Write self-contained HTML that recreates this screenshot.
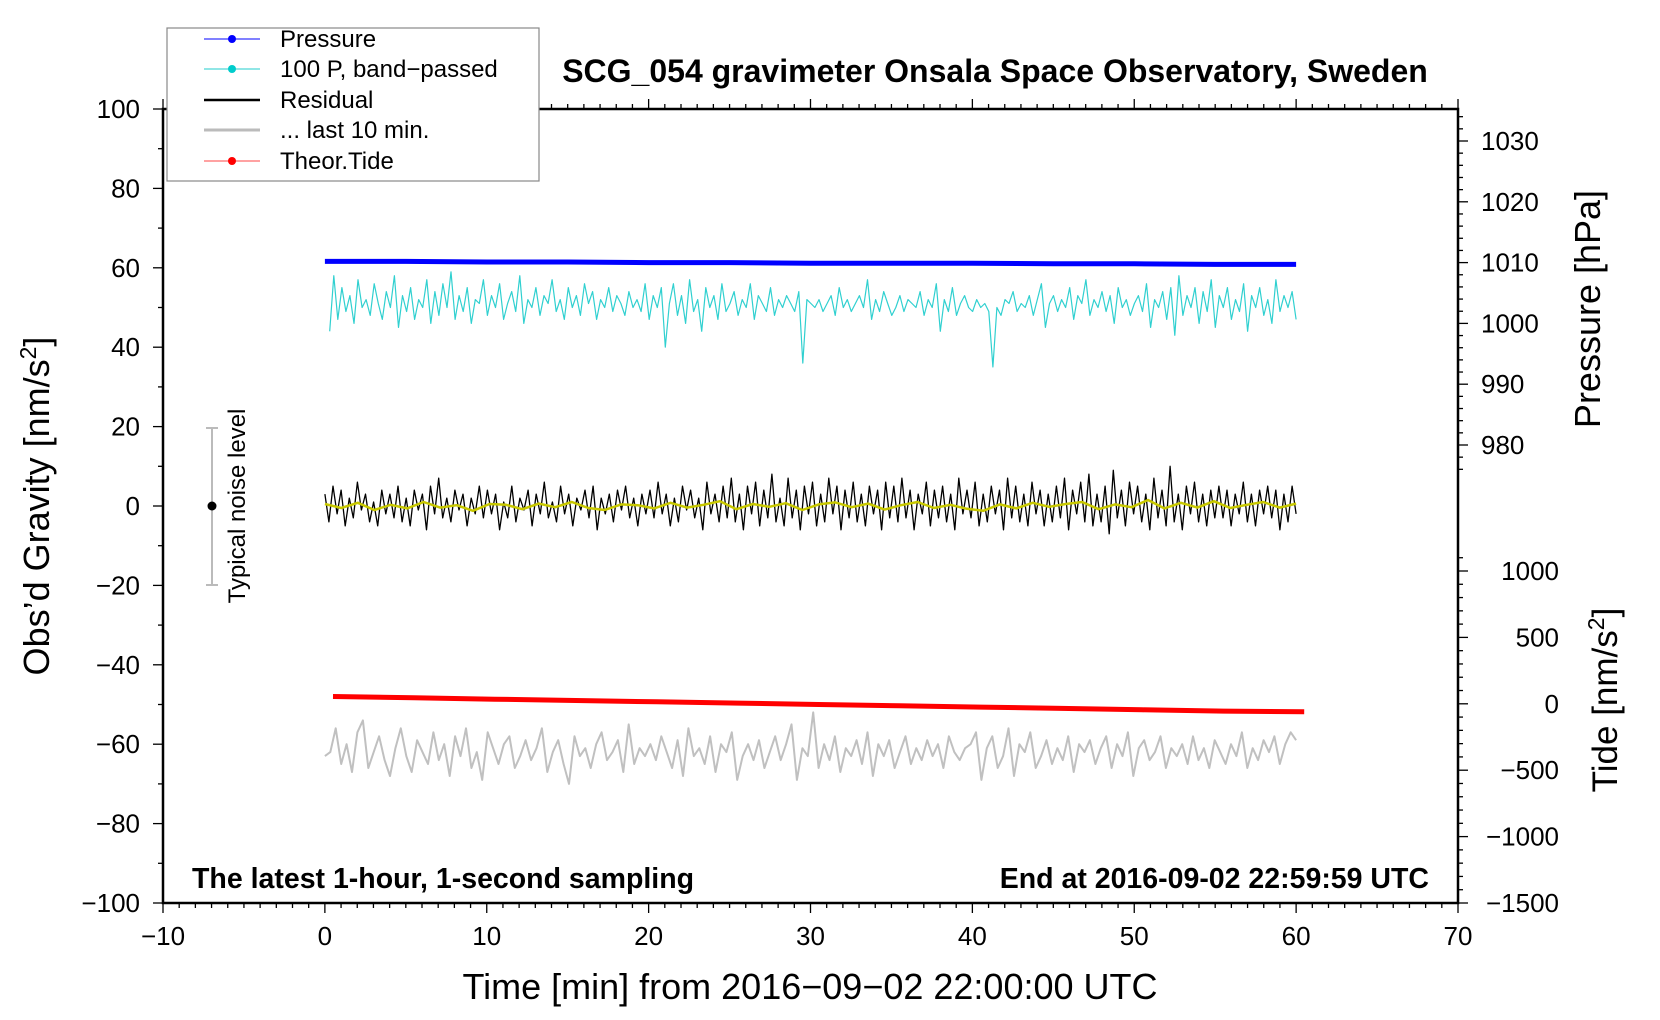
<!DOCTYPE html>
<html><head><meta charset="utf-8"><style>
html,body{margin:0;padding:0;background:#fff;}
svg{display:block;font-family:"Liberation Sans",sans-serif;}
</style></head><body>
<svg id="chart" width="1660" height="1020" viewBox="0 0 1660 1020" xmlns="http://www.w3.org/2000/svg">
<g id="axes"></g>
<g id="series"></g>
<text x="995" y="82" text-anchor="middle" font-size="32" font-weight="bold">SCG_054 gravimeter Onsala Space Observatory, Sweden</text>
<text x="192" y="888" font-size="28.5" font-weight="bold">The latest 1-hour, 1-second sampling</text>
<text x="1429" y="888" text-anchor="end" font-size="28.5" font-weight="bold">End at 2016-09-02 22:59:59 UTC</text>
<text x="810" y="999" text-anchor="middle" font-size="36">Time [min] from 2016−09−02 22:00:00 UTC</text>
<text transform="translate(49,506) rotate(-90)" text-anchor="middle" font-size="36">Obs’d Gravity [nm/s<tspan font-size="23" dy="-13">2</tspan><tspan dy="13">]</tspan></text>
<text transform="translate(1600,309) rotate(-90)" text-anchor="middle" font-size="36">Pressure [hPa]</text>
<text transform="translate(1617,700) rotate(-90)" text-anchor="middle" font-size="35">Tide [nm/s<tspan font-size="23" dy="-13">2</tspan><tspan dy="13">]</tspan></text>
<g>
<line x1="212" y1="428" x2="212" y2="585" stroke="#bbb" stroke-width="2"/>
<line x1="206" y1="428" x2="218" y2="428" stroke="#bbb" stroke-width="2"/>
<line x1="206" y1="585" x2="218" y2="585" stroke="#bbb" stroke-width="2"/>
<circle cx="212" cy="506" r="4.5" fill="#000"/>
<text transform="translate(245,506) rotate(-90)" text-anchor="middle" font-size="24">Typical noise level</text>
</g>
<g>
<rect x="167" y="28" width="372" height="153" fill="#fff" stroke="#888" stroke-width="1.2"/>
<g><line x1="204" y1="39" x2="260" y2="39" stroke="#00f" stroke-width="1"/><circle cx="232" cy="39" r="4" fill="#00f"/><text x="280" y="47" font-size="24">Pressure</text></g>
<g><line x1="204" y1="69" x2="260" y2="69" stroke="#2cc" stroke-width="1"/><circle cx="232" cy="69" r="4" fill="#0cc"/><text x="280" y="77" font-size="24">100 P, band−passed</text></g>
<g><line x1="204" y1="100" x2="260" y2="100" stroke="#000" stroke-width="2.5"/><text x="280" y="108" font-size="24">Residual</text></g>
<g><line x1="204" y1="130" x2="260" y2="130" stroke="#bbb" stroke-width="3"/><text x="280" y="138" font-size="24">... last 10 min.</text></g>
<g><line x1="204" y1="161" x2="260" y2="161" stroke="#f44" stroke-width="1"/><circle cx="232" cy="161" r="4" fill="#f00"/><text x="280" y="169" font-size="24">Theor.Tide</text></g>
</g>
<script>
const xTicks=[-10,0,10,20,30,40,50,60,70];
const yTicks=[100,80,60,40,20,0,-20,-40,-60,-80,-100];
const pTicks=[1030,1020,1010,1000,990,980];
const tTicks=[1000,500,0,-500,-1000,-1500];
const pressure=[1010.2,1010.2,1010.1,1010.1,1010.0,1010.0,1009.9,1009.9,1009.9,1009.8,1009.8,1009.7,1009.7];
const tide=[55,45,35,25,15,5,-5,-15,-25,-35,-45,-55,-60];
const bandpassed=[44,58,47,55,49,53,46,57,50,52,48,56,51,47,54,50,58,45,53,49,
55,47,52,50,57,46,54,48,56,50,59,47,53,49,55,46,52,51,57,48,
53,50,56,47,51,54,49,58,46,52,50,55,48,53,51,57,49,52,47,55,
50,53,48,56,51,54,47,52,50,55,49,53,51,48,54,50,52,49,56,47,
53,50,55,40,51,56,48,53,46,57,49,52,44,55,50,53,47,56,49,51,
54,48,52,50,56,47,53,51,49,55,48,52,50,53,51,49,54,36,52,51,
50,52,49,51,53,48,55,50,52,49,51,53,50,57,47,52,49,54,51,48,
50,53,49,52,51,50,54,48,52,50,56,44,52,49,55,48,51,53,50,49,
52,50,51,49,35,50,48,52,51,54,49,51,50,53,48,52,56,45,51,53,
49,52,50,55,47,53,51,57,48,52,50,54,49,53,46,55,50,52,48,51,
53,49,56,45,52,50,54,47,55,43,58,48,53,50,55,46,54,49,57,45,
53,50,55,47,52,49,56,44,53,50,55,48,52,46,57,49,53,50,54,47];
const residual=[3,-4,5,-2,4,-5,2,-3,6,-1,3,-4,1,-5,4,-2,3,-3,5,-4,
2,-5,4,-1,3,-6,5,-2,7,-3,2,-4,4,-1,3,-5,2,-2,5,-3,
4,-2,3,-6,1,-3,5,-4,2,-1,4,-5,3,-2,6,-3,1,-4,5,-2,
3,-5,2,-1,4,-3,5,-6,2,-2,3,-4,4,-1,5,-3,2,-5,3,-2,
4,-3,6,-2,3,-5,2,-4,5,-1,4,-3,2,-6,6,-2,3,-4,5,-3,
7,-4,3,-6,5,-2,6,-5,4,-3,8,-4,2,-5,7,-3,4,-6,5,-2,
6,-5,3,-4,7,-2,5,-6,4,-3,6,-4,3,-5,5,-2,4,-6,6,-3,
5,-4,7,-3,4,-6,3,-2,6,-5,4,-3,5,-4,3,-6,7,-2,4,-3,
6,-5,3,-4,5,-2,4,-6,7,-3,5,-4,3,-5,6,-2,4,-5,3,-4,
5,-3,7,-6,4,-2,6,-4,8,-5,3,-4,5,-7,9,-3,4,-5,6,-2,
5,-4,3,-6,7,-3,4,-5,10,-4,3,-6,5,-2,6,-4,3,-5,4,-3,
5,-3,4,-5,3,-2,6,-4,3,-5,4,-2,5,-3,4,-6,3,-4,5,-2];
const smoothed=[0.5,-0.5,0.8,-1,0.3,-0.6,1,-0.4,0.2,-1.2,0.5,0.3,-0.8,0.6,-0.3,1,-0.5,-1,0.4,0.2,-0.6,0.8,-0.4,0.3,1.2,-0.8,0.5,-0.2,0.7,-1,0.4,0.9,-0.3,0.6,-0.9,0.2,1,-0.5,0.3,-0.7,-1.2,0.4,-0.6,0.8,-0.2,0.5,1,-0.8,0.4,-0.3,1.5,-0.6,0.8,-0.4,1.2,-0.5,0.3,1,-0.4,0.6];
const last10=[-63,-62,-56,-65,-60,-67,-57,-54,-66,-62,-58,-64,-68,-61,-56,-63,-67,-59,-62,-65,
-57,-64,-60,-68,-58,-63,-56,-66,-62,-69,-57,-61,-65,-60,-58,-66,-63,-59,-64,-61,
-56,-67,-62,-59,-65,-70,-58,-63,-61,-66,-60,-57,-64,-62,-59,-67,-55,-65,-61,-63,
-60,-64,-58,-62,-66,-59,-68,-56,-63,-61,-65,-58,-67,-60,-62,-57,-69,-63,-60,-64,
-59,-66,-62,-58,-64,-60,-55,-69,-61,-63,-52,-66,-60,-64,-58,-67,-61,-63,-59,-65,
-57,-68,-60,-63,-59,-66,-62,-58,-65,-61,-64,-59,-63,-60,-66,-58,-62,-64,-61,-60,
-57,-69,-61,-58,-66,-63,-56,-68,-60,-62,-57,-66,-63,-59,-65,-61,-64,-58,-67,-60,
-62,-59,-65,-61,-58,-66,-60,-63,-57,-68,-61,-59,-64,-62,-58,-66,-61,-63,-60,-65,
-58,-64,-61,-66,-59,-62,-65,-60,-63,-57,-66,-61,-64,-59,-62,-58,-65,-60,-57,-59];

const L=163,R=1458,T=109,B=903;
function xs(v){return L+(v+10)*(R-L)/80;}
function ys(v){return B-(v+100)*(B-T)/200;}
function yp(v){return 141+(1030-v)*(445-141)/50;}
function yt(v){return 903-(v+1500)*(903-571)/2500;}
const NS='http://www.w3.org/2000/svg';
const ax=document.getElementById('axes');
const sr=document.getElementById('series');
function mk(tag,attrs,parent){const e=document.createElementNS(NS,tag);for(const k in attrs)e.setAttribute(k,attrs[k]);parent.appendChild(e);return e;}

const frame=mk('rect',{x:L,y:T,width:R-L,height:B-T,fill:'none',stroke:'#000','stroke-width':2.5},ax);


for(let m=-10;m<=70;m++){
  const len=(m%10===0)?10:5;
  mk('line',{x1:xs(m),y1:B,x2:xs(m),y2:B+len,stroke:'#000','stroke-width':1.3},ax);
  mk('line',{x1:xs(m),y1:T,x2:xs(m),y2:T-len,stroke:'#000','stroke-width':1.3},ax);
}
xTicks.forEach(v=>{
  const t=mk('text',{x:xs(v),y:945,'text-anchor':'middle','font-size':26},ax);
  t.textContent=String(v).replace('-','−');
  
  
});
for(let v=-100;v<=100;v+=10){
  const len=(v%20===0)?10:5;
  mk('line',{x1:L,y1:ys(v),x2:L-len,y2:ys(v),stroke:'#000','stroke-width':1.3},ax);
}
yTicks.forEach(v=>{
  const t=mk('text',{x:140,y:ys(v)+9,'text-anchor':'end','font-size':26},ax);
  t.textContent=String(v).replace('-','−');
  
  
});
for(let v=1034;v>=976;v-=2){
  const len=(v%10===0)?10:5;
  mk('line',{x1:R,y1:yp(v),x2:R+len,y2:yp(v),stroke:'#000','stroke-width':1.3},ax);
}
pTicks.forEach(v=>{
  const t=mk('text',{x:1481,y:yp(v)+9,'font-size':26},ax);
  t.textContent=String(v);
  
  
});
for(let v=1100;v>=-1500;v-=100){
  const len=(v%500===0)?10:5;
  mk('line',{x1:R,y1:yt(v),x2:R+len,y2:yt(v),stroke:'#000','stroke-width':1.3},ax);
}
tTicks.forEach(v=>{
  const t=mk('text',{x:1559,y:yt(v)+9,'text-anchor':'end','font-size':26},ax);
  t.textContent=String(v).replace('-','−');
  
  
});

function line(arr,x0,x1,yf,color,w,name){
  const n=arr.length;
  const pts=arr.map((v,i)=>xs(x0+(x1-x0)*i/(n-1)).toFixed(1)+','+yf(v).toFixed(1)).join(' ');
  const p=mk('polyline',{points:pts,fill:'none',stroke:color,'stroke-width':w,'stroke-linejoin':'round'},sr);
  
  
}
line(last10,0,60,ys,'#c0c0c0',2,'last-10-min-line');
line(bandpassed,0.3,60,ys,'#30d0d0',1.2,'bandpassed-pressure-line');
line(residual,0,60,ys,'#000',1.3,'residual-line');
line(smoothed,0,60,ys,'#c8c800',2.5,'residual-smoothed-line');
line(pressure,0,60,yp,'#0000ff',5,'pressure-line');
line(tide,0.5,60.5,yt,'#ff0000',5,'tide-line');
</script>
</svg>
</body></html>
